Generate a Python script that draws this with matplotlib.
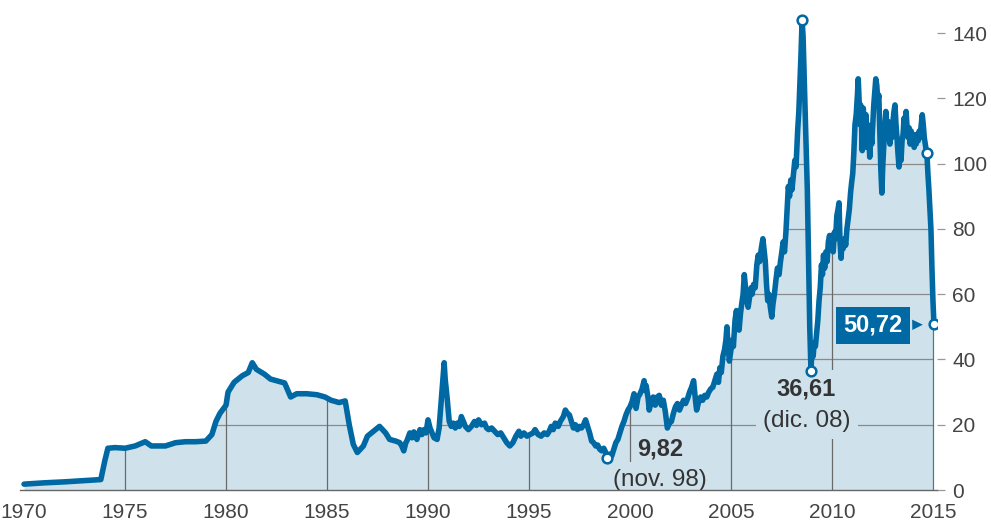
import matplotlib.pyplot as plt
import numpy as np

# precio del barril Brent (dólares), lectura aproximada del gráfico, por tramos
yr_70 = [1970.0, 1971.0, 1972.0, 1973.0, 1973.8, 1974.0, 1974.15, 1974.5, 1975.0, 1975.5,
         1976.0, 1976.3, 1977.0, 1977.5, 1978.0, 1978.5, 1979.0, 1979.3, 1979.5, 1979.7]
pr_70 = [1.8, 2.2, 2.5, 2.9, 3.2, 9.0, 12.8, 13.0, 12.8, 13.5,
         14.8, 13.5, 13.5, 14.5, 14.8, 14.8, 15.0, 17.0, 21.0, 23.5]

yr_80 = [1980.0, 1980.1, 1980.4, 1980.8, 1981.1, 1981.3, 1981.5, 1981.9, 1982.2, 1982.5,
         1982.9, 1983.2, 1983.5, 1984.0, 1984.5, 1984.9, 1985.2, 1985.6, 1985.9, 1986.1,
         1986.3, 1986.5, 1986.8, 1987.0, 1987.3, 1987.6, 1987.9, 1988.1, 1988.4, 1988.6,
         1988.7, 1988.8, 1988.9, 1988.95, 1989.1, 1989.2, 1989.3, 1989.45, 1989.6, 1989.7,
         1989.8, 1989.9, 1990.0, 1990.1, 1990.2, 1990.3, 1990.45, 1990.55, 1990.65, 1990.75,
         1990.8, 1990.85, 1990.95, 1991.05, 1991.15, 1991.25, 1991.35, 1991.45, 1991.55, 1991.65,
         1991.75, 1991.85, 1992.0, 1992.15, 1992.3, 1992.4, 1992.5, 1992.65, 1992.8, 1992.9,
         1993.0, 1993.15, 1993.3, 1993.45, 1993.6, 1993.75, 1993.9, 1994.05, 1994.2, 1994.35,
         1994.5, 1994.6, 1994.75, 1994.9, 1995.05, 1995.2, 1995.3, 1995.45, 1995.6, 1995.75,
         1995.9, 1996.0, 1996.1, 1996.2, 1996.3, 1996.45, 1996.55, 1996.7, 1996.8, 1996.9,
         1997.0, 1997.1, 1997.2, 1997.3, 1997.4, 1997.5, 1997.6, 1997.7, 1997.8, 1997.9,
         1998.0, 1998.1, 1998.2, 1998.3, 1998.4, 1998.5, 1998.6, 1998.7, 1998.8, 1998.87]
pr_80 = [26.0, 30.0, 33.0, 35.0, 36.0, 39.0, 37.0, 35.5, 34.0, 33.5,
         32.8, 28.5, 29.5, 29.5, 29.2, 28.5, 27.5, 26.8, 27.3, 20.0,
         14.0, 11.5, 13.5, 16.5, 18.0, 19.5, 17.5, 15.5, 15.0, 14.5,
         13.5, 12.0, 14.5, 15.0, 17.5, 16.0, 17.8, 15.5, 18.5, 17.0,
         18.5, 17.5, 21.5, 19.0, 17.5, 16.0, 15.5, 19.0, 27.0, 35.0,
         39.0, 34.0, 28.0, 21.0, 19.5, 20.5, 19.0, 20.5, 19.5, 22.5,
         21.0, 19.5, 18.5, 19.5, 21.0, 19.8, 21.5, 20.0, 20.5, 19.0,
         18.5, 19.0, 18.0, 17.0, 17.5, 16.0, 14.5, 13.5, 14.5, 16.5,
         18.0, 16.5, 17.5, 16.5, 17.0, 17.5, 18.5, 17.0, 16.5, 17.5,
         17.0, 18.0, 19.5, 18.5, 20.5, 19.5, 21.0, 22.5, 24.5, 23.5,
         23.0, 21.0, 19.0, 20.0, 18.5, 19.5, 19.0, 20.0, 21.5, 19.5,
         17.5, 15.0, 14.5, 13.5, 13.8, 12.5, 12.0, 12.8, 11.5, 9.82]

yr_00 = [1999.0, 1999.1, 1999.2, 1999.3, 1999.4, 1999.5, 1999.6, 1999.7, 1999.8, 1999.9,
         2000.0, 2000.1, 2000.2, 2000.3, 2000.4, 2000.5, 2000.6, 2000.7, 2000.75, 2000.8,
         2000.9, 2000.95, 2001.05, 2001.15, 2001.25, 2001.35, 2001.45, 2001.55, 2001.65, 2001.75,
         2001.85, 2001.95, 2002.05, 2002.15, 2002.25, 2002.35, 2002.45, 2002.55, 2002.65, 2002.75,
         2002.85, 2002.95, 2003.05, 2003.15, 2003.25, 2003.3, 2003.4, 2003.5, 2003.6, 2003.7,
         2003.8, 2003.9, 2004.0, 2004.1, 2004.2, 2004.3, 2004.38, 2004.45, 2004.52, 2004.6,
         2004.68, 2004.75, 2004.8, 2004.86, 2004.92]
pr_00 = [11.0, 10.5, 12.5, 14.5, 15.5, 17.5, 19.5, 21.0, 23.0, 24.5,
         25.5, 27.0, 29.5, 25.0, 28.5, 29.5, 31.0, 33.5, 30.5, 32.0,
         28.0, 24.5, 27.0, 28.5, 26.0, 28.5, 29.0, 26.0, 27.5, 24.0,
         19.0, 20.5, 21.0, 23.5, 25.5, 26.5, 24.5, 26.0, 27.5, 26.5,
         28.0, 30.0, 31.5, 33.5, 27.0, 24.5, 27.0, 28.5, 27.5, 29.0,
         28.5, 30.0, 31.0, 31.5, 33.5, 35.5, 33.0, 37.5, 36.0, 41.0,
         43.0, 46.0, 50.0, 44.0, 39.5]

yr_05 = [2005.0, 2005.07, 2005.12, 2005.2, 2005.27, 2005.32, 2005.4, 2005.47, 2005.53, 2005.6,
         2005.66, 2005.72, 2005.78, 2005.85, 2005.92, 2006.0, 2006.05, 2006.12, 2006.2, 2006.28,
         2006.35, 2006.42, 2006.5, 2006.58, 2006.63, 2006.7, 2006.76, 2006.82, 2006.88, 2006.95,
         2007.02, 2007.08, 2007.15, 2007.22, 2007.3, 2007.38, 2007.45, 2007.52, 2007.58, 2007.65,
         2007.72, 2007.78, 2007.84, 2007.9, 2007.96, 2008.02, 2008.1, 2008.16, 2008.22, 2008.3,
         2008.36, 2008.42, 2008.47, 2008.52, 2008.57, 2008.62, 2008.68, 2008.73, 2008.78, 2008.84,
         2008.9, 2008.96, 2009.02, 2009.07, 2009.12, 2009.18, 2009.24, 2009.3, 2009.36, 2009.42,
         2009.48, 2009.53, 2009.58, 2009.64, 2009.7, 2009.76, 2009.82, 2009.88, 2009.94]
pr_05 = [43.0, 46.0, 44.0, 52.0, 55.0, 51.0, 49.0, 54.0, 57.0, 60.0,
         66.0, 62.0, 58.0, 56.0, 59.0, 62.0, 60.0, 63.0, 62.0, 69.0,
         72.0, 70.0, 74.0, 77.0, 74.0, 70.0, 63.0, 58.0, 60.0, 56.0,
         53.0, 57.0, 60.0, 64.0, 68.0, 66.0, 70.0, 73.0, 76.0, 73.0,
         79.0, 86.0, 93.0, 90.0, 95.0, 92.0, 97.0, 101.0, 99.0, 110.0,
         116.0, 126.0, 134.0, 144.0, 139.0, 128.0, 115.0, 105.0, 92.0, 70.0,
         50.0, 36.61, 44.0, 41.0, 45.0, 44.0, 48.0, 52.0, 58.0, 62.0,
         69.0, 66.0, 72.0, 68.0, 73.0, 70.0, 76.0, 78.0, 75.0]

yr_10 = [2010.0, 2010.06, 2010.12, 2010.18, 2010.24, 2010.3, 2010.35, 2010.4, 2010.45, 2010.5,
         2010.56, 2010.62, 2010.68, 2010.74, 2010.8, 2010.86, 2010.92, 2010.97, 2011.03, 2011.08,
         2011.14, 2011.2, 2011.26, 2011.3, 2011.34, 2011.38, 2011.42, 2011.46, 2011.5, 2011.55,
         2011.6, 2011.64, 2011.68, 2011.72, 2011.77, 2011.82, 2011.87, 2011.92, 2011.97, 2012.02,
         2012.07, 2012.12, 2012.17, 2012.22, 2012.27, 2012.32, 2012.37, 2012.42, 2012.47, 2012.52,
         2012.57, 2012.62, 2012.67, 2012.72, 2012.77, 2012.82, 2012.87, 2012.92, 2012.97, 2013.02,
         2013.07, 2013.12, 2013.17, 2013.22, 2013.27, 2013.32, 2013.37, 2013.42, 2013.47, 2013.52,
         2013.57, 2013.62, 2013.67, 2013.72, 2013.77, 2013.82, 2013.87, 2013.92, 2013.97, 2014.02,
         2014.07, 2014.12, 2014.17, 2014.22, 2014.27, 2014.32, 2014.37, 2014.42, 2014.47, 2014.52,
         2014.57, 2014.62, 2014.67, 2014.7, 2014.75, 2014.8, 2014.85, 2014.9, 2014.95, 2015.0,
         2015.05]
pr_10 = [78.0, 73.0, 79.0, 77.0, 84.0, 86.0, 88.0, 76.0, 71.0, 76.0,
         74.0, 77.0, 75.0, 80.0, 83.0, 86.0, 91.0, 94.0, 97.0, 103.0,
         112.0, 115.0, 121.0, 126.0, 120.0, 112.0, 118.0, 113.0, 104.0, 117.0,
         112.0, 106.0, 115.0, 105.0, 112.0, 109.0, 102.0, 110.0, 106.0, 112.0,
         118.0, 122.0, 126.0, 124.0, 119.0, 121.0, 110.0, 98.0, 91.0, 100.0,
         106.0, 112.0, 116.0, 110.0, 113.0, 109.0, 106.0, 110.0, 108.0, 113.0,
         116.0, 118.0, 112.0, 108.0, 103.0, 99.0, 104.0, 101.0, 107.0, 109.0,
         114.0, 112.0, 116.0, 111.0, 108.0, 111.0, 106.0, 110.0, 107.0, 109.0,
         105.0, 108.0, 106.0, 109.0, 107.0, 110.0, 108.0, 112.0, 115.0, 112.0,
         108.0, 106.0, 104.0, 103.2, 97.0, 92.0, 86.0, 80.0, 68.0, 58.0,
         50.72]

mark_years = [1998.87, 2008.52, 2008.96, 2014.7, 2015.05]
xticks = list(range(1970, 2016, 5))
yticks = list(range(0, 141, 20))

blue = '#0069a3'
fill_c = '#cfe2ec'
txt_c = '#333333'

plt.rcParams['font.family'] = ['Liberation Sans', 'DejaVu Sans']

years = yr_70 + yr_80 + yr_00 + yr_05 + yr_10
prices = pr_70 + pr_80 + pr_00 + pr_05 + pr_10
x = np.array(years)
y = np.array(prices)

fig = plt.figure(figsize=(9.91, 5.29), dpi=100)
ax = fig.add_axes([0.0202, 0.0737, 0.9253, 0.913])

#1. área rellena
poly = ax.fill_between(x, 0, y, color=fill_c, lw=0, zorder=1)
clip = poly.get_paths()[0]

#2. rejilla sólo dentro del área
for v in yticks[1:]:
    ln = ax.axhline(v, color='#8a8a8a', lw=0.9, zorder=2)
    ln.set_clip_path(clip, ax.transData)
for t in xticks[1:]:
    ln = ax.axvline(t, color='#6a6a6a', lw=0.9, zorder=2)
    ln.set_clip_path(clip, ax.transData)

#3. línea de precio
ax.plot(x, y, color=blue, lw=4.0, solid_joinstyle='round', solid_capstyle='round', zorder=4)
idx = [years.index(m) for m in mark_years]
ax.plot(x[idx], y[idx], 'o', ms=7, mfc='white', mec=blue, mew=1.8, zorder=5)

#4. etiquetas
bb = dict(boxstyle='square,pad=0.3', fc=fill_c, ec='none')
i_min = years.index(1998.87)
ax.annotate('9,82', (x[i_min], y[i_min]), xytext=(53, 9), textcoords='offset pixels',
            ha='center', va='center', fontsize=17, fontweight='bold', color=txt_c,
            bbox=dict(boxstyle='square,pad=0.15', fc=fill_c, ec='none'), zorder=2.5,
            clip_on=True)
ax.annotate('(nov. 98)', (x[i_min], y[i_min]), xytext=(53, -22), textcoords='offset pixels',
            ha='center', va='center', fontsize=17.5, color=txt_c, bbox=bb, zorder=2.5,
            clip_on=True)
i_dic = years.index(2008.96)
ax.annotate('36,61', (x[i_dic], y[i_dic]), xytext=(-5, -18), textcoords='offset pixels',
            ha='center', va='center', fontsize=17, fontweight='bold', color=txt_c,
            bbox=bb, zorder=2.5)
ax.annotate('(dic. 08)', (x[i_dic], y[i_dic]), xytext=(-4, -50), textcoords='offset pixels',
            ha='center', va='center', fontsize=17.5, color=txt_c, bbox=bb, zorder=2.5)
ax.annotate('50,72', (x[-1], y[-1]), xytext=(-61, -1), textcoords='offset pixels',
            ha='center', va='center', fontsize=17, fontweight='bold', color='white',
            bbox=dict(boxstyle='square,pad=0.3', fc=blue, ec='none'),
            arrowprops=dict(arrowstyle='-|>,head_length=0.45,head_width=0.22', color=blue,
                            shrinkA=0, shrinkB=8, lw=0),
            zorder=6)

#5. ejes
ax.set_xlim(1969.8, 2015.2)
ax.set_ylim(0, 148)
ax.set_xticks(xticks)
ax.set_yticks(yticks)
ax.yaxis.tick_right()
ax.tick_params(axis='y', length=6, width=0.9, color='#999999', pad=5, labelsize=15, labelcolor='#444444')
ax.tick_params(axis='x', length=0, pad=9, labelsize=15, labelcolor='#444444')
for s in ['top', 'left', 'right']:
    ax.spines[s].set_visible(False)
ax.spines['bottom'].set_color('#666666')
ax.spines['bottom'].set_linewidth(1)
ax.spines['bottom'].set_zorder(3)

fig.savefig('out.png', dpi=100)
